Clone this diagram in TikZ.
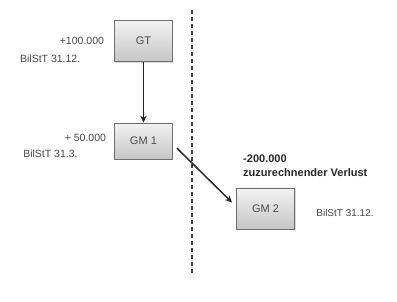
\documentclass[tikz,border=0pt]{standalone}
\usepackage{fontspec}
\setmainfont{Liberation Sans}
\usetikzlibrary{positioning, arrows.meta, shadows, calc}
\definecolor{boxline}{RGB}{110, 110, 110}
\definecolor{boxtext}{RGB}{75, 75, 75}
\definecolor{lbltext}{RGB}{70, 70, 70}

\begin{document}
\begin{tikzpicture}[
      ent/.style={rectangle, draw=boxline, line width=0.9pt, top color=gray!10, bottom color=gray!45, minimum width=2.04cm, minimum height=1.45cm, font=\fontsize{11}{13}\selectfont\color{boxtext}, drop shadow={opacity=0.3, shadow xshift=1pt, shadow yshift=-1pt}},
      lbl/.style={inner sep=0pt, font=\fontsize{10.5}{12}\selectfont\color{lbltext}},
      arr/.style={-{Stealth[length=7pt, width=6.5pt]}, line width=1.5pt, black!85},
      sep/.style={dash pattern=on 4pt off 3pt, line width=1.3pt, gray!50!black}]

      \path[use as bounding box] (0,0) rectangle (13.95,10.58);

      % Gesellschaften
      \node[ent] (gt)  at (5.04, 9.14) {GT};
      \node[ent, minimum height=1.27cm] (gm1) at (5.04, 5.62) {GM 1};
      \node[ent] (gm2) at (9.33, 3.25) {GM 2};

      % Werte und Stichtage
      \node[lbl, anchor=east] (gtval)   at (3.66, 9.14) {+100.000};
      \node[lbl, anchor=west] (gtdate)  at (0.70, 8.51) {BilStT 31.12.};
      \node[lbl, anchor=east] (gm1val)  at (3.73, 5.73) {+ 50.000};
      \node[lbl, anchor=west] (gm1date) at (0.81, 5.17) {BilStT 31.3.};
      \node[lbl, anchor=west, font=\fontsize{10}{12}\selectfont\color{lbltext}] (gm2date) at (11.11, 3.09) {BilStT 31.12.};
      \node[lbl, anchor=west, align=left, font=\fontsize{11}{14}\selectfont\bfseries\color{black!85}] (loss) at (8.54, 4.75) {-200.000\\zuzurechnender Verlust};

      % Trennlinie
      \coordinate (septop) at (6.75, 10.23);
      \coordinate (sepbot) at (6.75, 0.91);
      \draw[sep] (septop) -- (sepbot);

      % Pfeile
      \draw[arr] (gt) -- (gm1);
      \draw[arr] ([xshift=4pt, yshift=-7pt]gm1.east) -- ([xshift=-4pt, yshift=-15pt]gm2.north west);
    \end{tikzpicture}
\end{document}
